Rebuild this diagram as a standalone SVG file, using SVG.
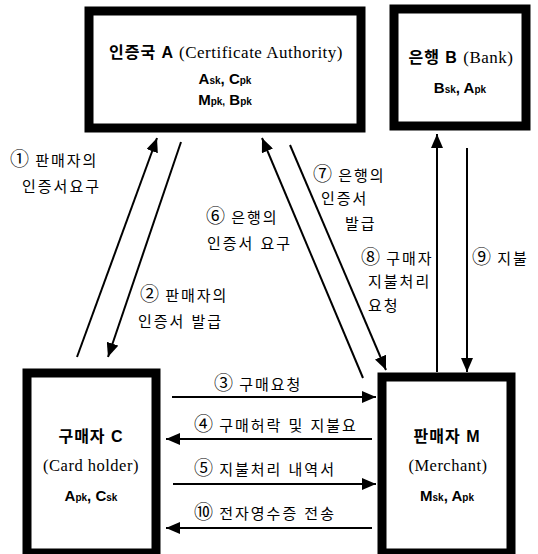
<svg xmlns="http://www.w3.org/2000/svg" width="538" height="554" viewBox="0 0 538 554">
<style>
.box{fill:#fff;stroke:#000;stroke-width:9}
.ln{stroke:#000;stroke-width:2;fill:none;marker-end:url(#ah)}
.k{font-family:"Liberation Sans","Noto Sans CJK KR",sans-serif;font-size:15px;fill:#000;letter-spacing:2px}
.n{font-family:"Noto Sans CJK KR",sans-serif;font-size:19px;letter-spacing:0px}
.t{font-family:"Liberation Sans","Noto Sans CJK KR",sans-serif;font-size:16px;font-weight:bold;fill:#000;letter-spacing:1px}
.s{font-family:"Liberation Serif","Noto Sans CJK KR",serif;font-size:17px;font-weight:normal;letter-spacing:0.5px}
.c{font-family:"Liberation Serif",serif;font-size:16.5px;fill:#000;letter-spacing:0.5px}
.kk{font-family:"Liberation Sans",sans-serif;font-size:15px;font-weight:bold;fill:#000}
.sub{font-size:10px}
</style>
<defs>
<marker id="ah" viewBox="0 0 14 12" refX="14" refY="6" markerWidth="14" markerHeight="12" markerUnits="userSpaceOnUse" orient="auto">
<path d="M0,0 L14,6 L0,12 Z" fill="#000"/>
</marker>
</defs>
<g id="nodeA">
<rect class="box" x="89" y="11" width="272" height="117"/>
<text class="t" x="226" y="58" text-anchor="middle">인증국 A <tspan class="s">(Certificate Authority)</tspan></text>
<text class="kk" x="225" y="84" text-anchor="middle">A<tspan class="sub">sk</tspan>,  C<tspan class="sub">pk</tspan></text>
<text class="kk" x="225" y="105" text-anchor="middle">M<tspan class="sub">pk,</tspan>  B<tspan class="sub">pk</tspan></text>
</g>
<g id="nodeB">
<rect class="box" x="394" y="9" width="132" height="117"/>
<text class="t" x="461" y="63" text-anchor="middle">은행 B <tspan class="s">(Bank)</tspan></text>
<text class="kk" x="460" y="93" text-anchor="middle">B<tspan class="sub">sk</tspan>,  A<tspan class="sub">pk</tspan></text>
</g>
<g id="nodeC">
<rect class="box" x="27" y="373" width="129" height="180"/>
<text class="t" x="91" y="442" text-anchor="middle">구매자 C</text>
<text class="c" x="91" y="471" text-anchor="middle">(Card holder)</text>
<text class="kk" x="91" y="501" text-anchor="middle">A<tspan class="sub">pk</tspan>,  C<tspan class="sub">sk</tspan></text>
</g>
<g id="nodeM">
<rect class="box" x="382" y="377" width="129" height="176"/>
<text class="t" x="447" y="442" text-anchor="middle">판매자 M</text>
<text class="c" x="448" y="471" text-anchor="middle">(Merchant)</text>
<text class="kk" x="447" y="501" text-anchor="middle">M<tspan class="sub">sk</tspan>,  A<tspan class="sub">pk</tspan></text>
</g>
<g id="connectors">
<line class="ln" x1="77" y1="357" x2="157" y2="138"/>
<line class="ln" x1="181" y1="142" x2="108" y2="357"/>
<line class="ln" x1="363" y1="378" x2="262" y2="138"/>
<line class="ln" x1="290" y1="145" x2="386" y2="370"/>
<line class="ln" x1="437" y1="372" x2="437" y2="134"/>
<line class="ln" x1="467" y1="148" x2="467" y2="372"/>
<line class="ln" x1="172" y1="397" x2="376" y2="397"/>
<line class="ln" x1="372" y1="439" x2="166" y2="439"/>
<line class="ln" x1="173" y1="484" x2="376" y2="484"/>
<line class="ln" x1="372" y1="528" x2="166" y2="528"/>
</g>
<g id="labels">
<text class="k" x="10" y="166"><tspan class="n">①</tspan> 판매자의</text>
<text class="k" x="22" y="192">인증서요구</text>
<text class="k" x="140" y="301"><tspan class="n">②</tspan> 판매자의</text>
<text class="k" x="138" y="327">인증서 발급</text>
<text class="k" x="206" y="223"><tspan class="n">⑥</tspan> 은행의</text>
<text class="k" x="207" y="249">인증서 요구</text>
<text class="k" x="313" y="181"><tspan class="n">⑦</tspan> 은행의</text>
<text class="k" x="321" y="204">인증서</text>
<text class="k" x="345" y="229">발급</text>
<text class="k" x="361" y="264"><tspan class="n">⑧</tspan> 구매자</text>
<text class="k" x="368" y="287">지불처리</text>
<text class="k" x="368" y="311">요청</text>
<text class="k" x="472" y="264"><tspan class="n">⑨</tspan> 지불</text>
<text class="k" x="214" y="390"><tspan class="n">③</tspan> 구매요청</text>
<text class="k" x="194" y="431"><tspan class="n">④</tspan> 구매허락 및 지불요</text>
<text class="k" x="194" y="475"><tspan class="n">⑤</tspan> 지불처리 내역서</text>
<text class="k" x="194" y="519"><tspan class="n">⑩</tspan> 전자영수증 전송</text>
</g>
</svg>
